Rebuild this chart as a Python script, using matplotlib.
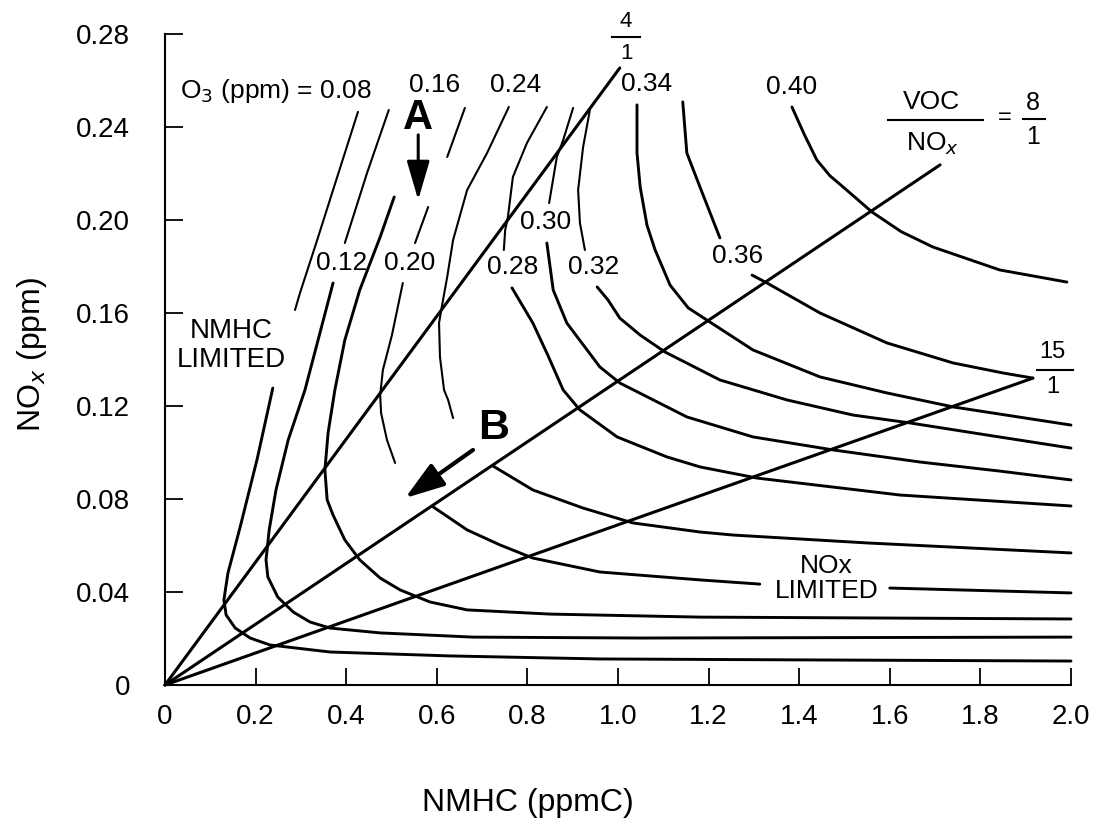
import matplotlib
matplotlib.use('Agg')
import matplotlib.pyplot as plt
import numpy as np

plt.rcParams['font.family'] = ['Liberation Sans', 'DejaVu Sans']

# Ticks
x_ticks = [0, 0.2, 0.4, 0.6, 0.8, 1.0, 1.2, 1.4, 1.6, 1.8, 2.0]
x_tick_labels = ['0', '0.2', '0.4', '0.6', '0.8', '1.0', '1.2', '1.4', '1.6', '1.8', '2.0']
y_ticks = [0, 0.04, 0.08, 0.12, 0.16, 0.20, 0.24, 0.28]
y_tick_labels = ['0', '0.04', '0.08', '0.12', '0.16', '0.20', '0.24', '0.28']

# Ozone isopleths (NMHC ppmC, NOx ppm), one list of segments per level
iso_008 = [([0.426, 0.371, 0.336, 0.298, 0.287],
            [0.2465, 0.2129, 0.1914, 0.1686, 0.1613]),
           ([0.238, 0.203, 0.166, 0.139, 0.130, 0.135, 0.155, 0.188, 0.232, 0.364, 0.629, 0.960, 1.402, 2.0],
            [0.1277, 0.0968, 0.0680, 0.0482, 0.0366, 0.0301, 0.0245, 0.0202, 0.0172, 0.0142, 0.0125, 0.0112, 0.0108, 0.0103])]
iso_012 = [([0.494, 0.446, 0.397],
            [0.2473, 0.2202, 0.1901]),
           ([0.371, 0.342, 0.309, 0.272, 0.245, 0.230, 0.223, 0.227, 0.249, 0.283, 0.320, 0.364, 0.475, 0.680, 1.049, 2.0],
            [0.1729, 0.1514, 0.1269, 0.1054, 0.0839, 0.0667, 0.0538, 0.0465, 0.0378, 0.0314, 0.0271, 0.0245, 0.0224, 0.0206, 0.0202, 0.0206])]
iso_016 = [([0.506, 0.475, 0.430, 0.397, 0.375, 0.360, 0.353, 0.358, 0.371, 0.397, 0.430, 0.475, 0.519, 0.585, 0.667, 0.850, 1.181, 2.0],
            [0.2099, 0.1927, 0.1699, 0.1484, 0.1269, 0.1084, 0.0925, 0.0796, 0.0731, 0.0624, 0.0538, 0.0460, 0.0409, 0.0357, 0.0323, 0.0305, 0.0292, 0.0284])]
iso_020 = [([0.662, 0.623], [0.2482, 0.2271]),
           ([0.581, 0.552], [0.2056, 0.1901]),
           ([0.525, 0.501, 0.481, 0.475, 0.477, 0.490, 0.508],
            [0.1729, 0.1505, 0.1355, 0.1247, 0.1170, 0.1054, 0.0955]),
           ([0.592, 0.667, 0.740, 0.812, 0.960, 1.181, 1.313],
            [0.0766, 0.0667, 0.0602, 0.0546, 0.0486, 0.0452, 0.0434]),
           ([1.600, 2.0], [0.0417, 0.0396])]
iso_024 = [([0.759, 0.711, 0.667, 0.636, 0.623, 0.611, 0.605, 0.607, 0.616, 0.625, 0.636],
            [0.2486, 0.2288, 0.2129, 0.1914, 0.1755, 0.1626, 0.1557, 0.1411, 0.1269, 0.1226, 0.1148]),
           ([0.724, 0.812, 0.923, 1.033, 1.181, 1.254, 1.550, 2.0],
            [0.0942, 0.0839, 0.0761, 0.0697, 0.0658, 0.0645, 0.0611, 0.0568])]
iso_028 = [([0.843, 0.799, 0.768, 0.757, 0.751, 0.748],
            [0.2486, 0.2331, 0.2185, 0.2013, 0.1957, 0.1871]),
           ([0.766, 0.812, 0.845, 0.879, 0.916, 0.998, 1.108, 1.181, 1.307, 1.623, 2.0],
            [0.1708, 0.1557, 0.1419, 0.1269, 0.1183, 0.1067, 0.0981, 0.0938, 0.0890, 0.0817, 0.0770])]
iso_030 = [([0.901, 0.879, 0.865, 0.848],
            [0.2482, 0.2344, 0.2271, 0.2073]),
           ([0.843, 0.857, 0.887, 0.960, 1.004, 1.152, 1.298, 1.475, 1.667, 1.843, 2.0],
            [0.1901, 0.1699, 0.1557, 0.1368, 0.1299, 0.1153, 0.1067, 0.1011, 0.0959, 0.0920, 0.0882])]
iso_032 = [([0.938, 0.923, 0.912, 0.916, 0.927],
            [0.2473, 0.2314, 0.2129, 0.1987, 0.1871]),
           ([0.954, 0.978, 1.004, 1.049, 1.104, 1.225, 1.373, 1.519, 1.645, 1.815, 2.0],
            [0.1712, 0.1656, 0.1578, 0.1505, 0.1432, 0.1312, 0.1226, 0.1161, 0.1127, 0.1075, 0.1019])]
iso_034 = [([1.042, 1.042, 1.049, 1.064, 1.082, 1.115, 1.155, 1.203, 1.298, 1.446, 1.594, 1.740, 2.0],
            [0.2495, 0.2288, 0.2142, 0.1978, 0.1871, 0.1720, 0.1622, 0.1561, 0.1441, 0.1325, 0.1256, 0.1196, 0.1118])]
iso_036 = [([1.143, 1.152, 1.181, 1.225],
            [0.2508, 0.2288, 0.2142, 0.1923]),
           ([1.296, 1.329, 1.446, 1.594, 1.740, 1.850, 1.916],
            [0.1763, 0.1729, 0.1600, 0.1471, 0.1385, 0.1342, 0.1320])]
iso_040 = [([1.384, 1.412, 1.439, 1.468, 1.497, 1.561, 1.625, 1.695, 1.843, 1.991],
            [0.2486, 0.2365, 0.2258, 0.2190, 0.2142, 0.2034, 0.1950, 0.1884, 0.1785, 0.1733])]

isopleths = [iso_008, iso_012, iso_016, iso_020, iso_024, iso_028,
             iso_030, iso_032, iso_034, iso_036, iso_040]

# VOC/NOx ratio lines from the origin: end points
ratio_x = [1.004, 1.711, 1.916]
ratio_y = [0.2654, 0.2237, 0.1320]

# isopleth labels: text, x, y
iso_labels = ['0.16', '0.24', '0.34', '0.40', '0.12', '0.20', '0.28', '0.30', '0.32', '0.36']
iso_label_x = [0.596, 0.775, 1.064, 1.384, 0.389, 0.541, 0.768, 0.841, 0.947, 1.263]
iso_label_y = [0.2581, 0.2581, 0.2585, 0.2572, 0.1815, 0.1815, 0.1798, 0.1991, 0.1798, 0.1845]

fig = plt.figure(figsize=(11, 8.25), dpi=100)
ax = fig.add_axes([0.15, 0.1697, 0.8236, 0.7891])

# thin upper strokes, heavier strokes where the curves run out to the right
for iso in isopleths:
    for sx, sy in iso:
        lw = 2.1 if sx[-1] > 1.2 else 1.5
        ax.plot(sx, sy, color='black', lw=lw, solid_joinstyle='round',
                solid_capstyle='round', clip_on=False)

for rx, ry in zip(ratio_x, ratio_y):
    ax.plot([0, rx], [0, ry], color='black', lw=2.2, solid_capstyle='round', clip_on=False)

ax.set_xlim(0, 2.0)
ax.set_ylim(0, 0.28)
ax.spines['top'].set_visible(False)
ax.spines['right'].set_visible(False)
ax.spines['left'].set_linewidth(1.5)
ax.spines['bottom'].set_linewidth(1.5)

ax.set_xticks(x_ticks)
ax.set_xticklabels(x_tick_labels)
ax.set_yticks(y_ticks)
ax.set_yticklabels(y_tick_labels)
ax.tick_params(axis='x', direction='in', length=12, width=1.3, pad=14, labelsize=20)
ax.tick_params(axis='y', direction='in', length=13, width=1.3, pad=25, labelsize=20)

ax.set_xlabel('NMHC (ppmC)', fontsize=23)
ax.xaxis.set_label_coords(0.40, -0.181)
ax.xaxis.label.set_va('center')
ax.set_ylabel(r'NO$_x$ (ppm)', fontsize=23)
ax.yaxis.set_label_coords(-0.147, 0.507)
ax.yaxis.label.set_va('center')

# labels
ax.text(0.033, 0.2555, r'O$_3$ (ppm) = 0.08', fontsize=19, ha='left', va='center')
for t, lx, ly in zip(iso_labels, iso_label_x, iso_label_y):
    ax.text(lx, ly, t, fontsize=19, ha='center', va='center')

ax.text(0.146, 0.1462, 'NMHC\nLIMITED', fontsize=20, ha='center', va='center', linespacing=1.15)
ax.text(1.46, 0.0458, 'NOx\nLIMITED', fontsize=19, ha='center', va='center', linespacing=1.1)

# ratio labels
ax.text(1.018, 0.2855, '4', fontsize=16, ha='center', va='center', clip_on=False)
ax.plot([0.987, 1.049], [0.2787, 0.2787], color='black', lw=1.5, clip_on=False)
ax.text(1.018, 0.2716, '1', fontsize=16, ha='center', va='center')

ax.text(1.691, 0.2508, 'VOC', fontsize=19, ha='center', va='center')
ax.plot([1.596, 1.806], [0.2430, 0.2430], color='black', lw=1.5)
ax.text(1.695, 0.2327, r'NO$_x$', fontsize=19, ha='center', va='center')
ax.text(1.854, 0.2439, '=', fontsize=17, ha='center', va='center')
ax.text(1.916, 0.2503, '8', fontsize=18, ha='center', va='center')
ax.plot([1.894, 1.943], [0.2434, 0.2434], color='black', lw=1.5)
ax.text(1.916, 0.2357, '1', fontsize=18, ha='center', va='center')

ax.text(1.960, 0.1432, '15', fontsize=17, ha='center', va='center', clip_on=False)
ax.plot([1.925, 2.004], [0.1355, 0.1355], color='black', lw=1.5, clip_on=False)
ax.text(1.960, 0.1282, '1', fontsize=17, ha='center', va='center', clip_on=False)

# A and B arrows
ax.text(0.559, 0.2439, 'A', fontsize=30, fontweight='bold', ha='center', va='center')
ax.annotate('', xy=(0.559, 0.2086), xytext=(0.559, 0.2366),
            arrowprops=dict(arrowstyle='-|>,head_length=1.2,head_width=0.35',
                            mutation_scale=20, lw=2.2, color='black', shrinkA=0, shrinkB=0))
ax.text(0.726, 0.1105, 'B', fontsize=31, fontweight='bold', ha='center', va='center')
ax.annotate('', xy=(0.530, 0.0804), xytext=(0.680, 0.1011),
            arrowprops=dict(arrowstyle='-|>,head_length=1.2,head_width=0.4',
                            mutation_scale=20, lw=3, color='black', shrinkA=0, shrinkB=0))

fig.savefig('out.png', dpi=100)
